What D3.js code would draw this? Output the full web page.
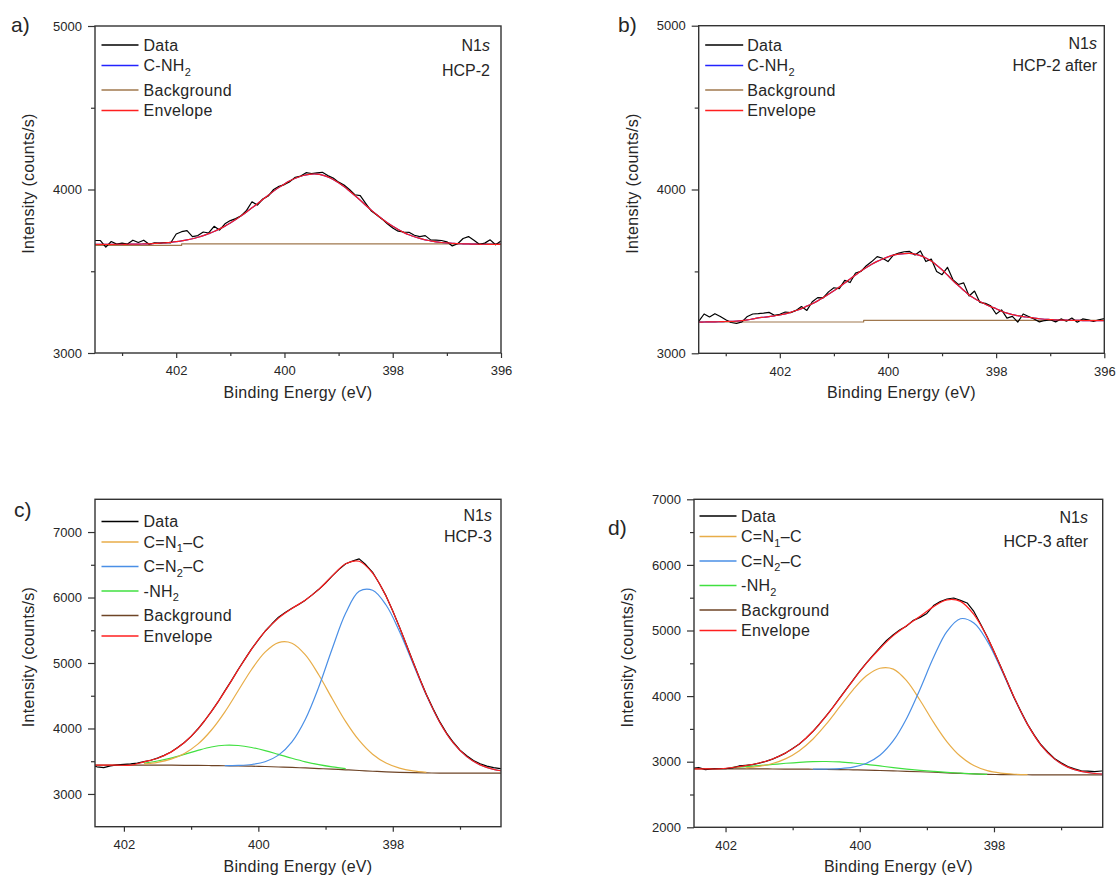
<!DOCTYPE html>
<html>
<head>
<meta charset="utf-8">
<script src="https://cdn.jsdelivr.net/npm/d3@7"></script>
<style>
  body { margin: 0; background: #fff; }
  svg text { font-family: "Liberation Sans", Arial, sans-serif; fill: #262626; }
</style>
</head>
<body>
<script>

// ---------- data ----------
// energy grids (eV), instrument step 0.1 eV, fit curves sampled every 0.2 eV
const energyAB = d3.range(76).map(i => Math.round((403.5 - i * 0.1) * 10) / 10);
const energyCD = d3.range(63).map(i => Math.round((402.5 - i * 0.1) * 10) / 10);
const energyFit = d3.range(32).map(i => Math.round((402.5 - i * 0.2) * 10) / 10);

// a) HCP-2
const dataA = [3688,3688,3648,3682,3666,3672,
  3666,3690,3676,3690,3665,3674,3672,3676,3674,3728,
  3742,3748,3712,3718,3740,3734,3775,3752,3790,3810,
  3822,3840,3872,3925,3905,3942,3960,4000,4020,4030,
  4048,4075,4082,4103,4098,4102,4105,4085,4070,4045,
  4028,4000,3968,3962,3915,3870,3845,3820,3790,3765,
  3745,3740,3738,3720,3712,3718,3692,3690,3688,3680,
  3655,3668,3700,3712,3690,3665,3672,3692,3662,3685];
const envA = [3664,3664,3664,3664,3665,3665,3665,3666,3666,3667,
  3668,3670,3672,3674,3677,3681,3686,3692,3699,3708,
  3718,3730,3743,3759,3776,3795,3816,3839,3863,3888,
  3913,3939,3965,3990,4013,4034,4053,4069,4081,4089,
  4094,4094,4088,4077,4061,4041,4018,3991,3963,3934,
  3904,3875,3847,3821,3797,3775,3755,3738,3723,3711,
  3701,3692,3686,3680,3676,3673,3671,3669,3668,3667,
  3666,3665,3665,3664,3664,3664];
const bgA = [[403.5, 3658], [401.9, 3658], [401.9, 3667], [396, 3667]];

// b) HCP-2 after
const dataB = [3195,3240,3222,3242,3225,3205,
  3188,3182,3192,3225,3240,3242,3245,3250,3232,3238,
  3252,3248,3262,3285,3262,3315,3340,3338,3375,3400,
  3395,3445,3432,3490,3500,3535,3560,3590,3580,3560,
  3600,3612,3620,3622,3600,3625,3560,3575,3500,3480,
  3525,3450,3420,3430,3350,3380,3310,3305,3290,3240,
  3265,3215,3225,3190,3240,3225,3210,3192,3200,3205,
  3192,3210,3196,3215,3190,3210,3204,3195,3205,3212];
const envB = [3191,3191,3192,3192,3193,3194,
  3195,3196,3199,3204,3210,3216,3220,3224,3229,3234,
  3241,3250,3261,3273,3288,3303,3320,3339,3360,3382,
  3405,3429,3454,3478,3502,3524,3544,3561,3576,3589,
  3599,3605,3609,3610,3605,3596,3582,3563,3538,3510,
  3478,3444,3414,3385,3356,3335,3316,3300,3285,3272,
  3257,3245,3236,3230,3224,3220,3215,3211,3208,3206,
  3204,3203,3202,3201,3201,3200,3200,3200,3200,3200];
const bgB = [[403.5, 3191], [400.45, 3191], [400.45, 3201], [396, 3201]];

// c) HCP-3
const dataC = [3440,3415,3402,3430,3445,3452,
  3458,3470,3495,3515,3548,3590,3640,3708,3785,3880,
  3992,4118,4258,4405,4570,4730,4900,5060,5215,5352,
  5485,5595,5700,5770,5835,5895,5960,6040,6125,6222,
  6330,6430,6515,6555,6590,6500,6385,6215,6025,5795,
  5548,5285,5022,4765,4520,4300,4100,3930,3790,3670,
  3585,3512,3462,3425,3402,3388,3375];
const bgC = [3440,3440,3440,3440,3440,3440,3439,3438,3436,3434,3431,3428,3424,3419,3412,3405,
  3397,3388,3379,3369,3358,3347,3338,3331,3325,3321,3319,3318,3317,3317,3317,3317];
const cn1C = [null,null,null,null,3459,3483,3531,3619,3761,3973,4251,4576,4901,5166,5312,5302,
  5123,4816,4454,4105,3817,3607,3472,3394,3352,3331,null,null,null,null,null,null];
const cn2C = [null,null,null,null,null,null,null,null,null,null,3433,3436,3450,3492,3593,3796,
  4142,4637,5221,5763,6095,6112,5886,5482,4993,4507,4092,3779,3570,3444,3376,3342];
const nh2C = [null,null,null,null,3472,3503,3547,3604,3665,3717,3744,3740,3710,3662,3604,3545,
  3491,3447,3413,3387,null,null,null,null,null,null,null,null,null,null,null,null];

// d) HCP-3 after
const dataD = [2900,2912,2880,2890,2895,2893,
  2905,2935,2945,2955,2978,3005,3040,3085,3135,3200,
  3270,3360,3460,3575,3700,3830,3968,4105,4245,4380,
  4505,4625,4740,4850,4935,5010,5070,5155,5200,5260,
  5380,5440,5480,5495,5460,5420,5290,5100,4900,4680,
  4450,4215,3975,3770,3570,3405,3258,3148,3050,2985,
  2925,2890,2862,2855,2850,2858,2860];
const bgD = [2890,2890,2890,2890,2890,2890,2889,2888,2887,2885,2883,2880,2876,2872,2866,2860,
  2854,2847,2839,2830,2821,2813,2807,2804,2802,2801,2800,2800,2800,2800,2800,2800];
const cn1D = [null,null,null,null,2907,2930,2972,3047,3168,3343,3572,3835,4096,4309,4425,4412,
  4232,3933,3599,3303,3082,2941,2863,2826,2809,2803,null,null,null,null,null,null];
const cn2D = [null,null,null,null,null,null,null,null,null,2886,2888,2895,2917,2976,3098,3320,
  3663,4110,4591,4987,5179,5114,4838,4426,3974,3567,3253,3043,2917,2852,2820,2807];
const nh2D = [null,null,null,2912,2924,2940,2958,2976,2991,3001,3003,2996,2980,2960,2935,2910,
  2888,2869,2852,2837,2825,2815,2808,null,null,null,null,null,null,null,null,null];

// envelope = background + sum of fitted components
function envelope(bg, comps) {
  return bg.map((b, i) => b + d3.sum(comps, c => c[i] == null ? 0 : c[i] - b));
}
const envC = envelope(bgC, [cn1C, cn2C, nh2C]);
const envD = envelope(bgD, [cn1D, cn2D, nh2D]);

const pairs = (xs, ys) => xs.map((e, i) => [e, ys[i]]);

// ---------- colours ----------
const col = {
  data: "#000000", cnh2: "#2323ff", bgLight: "#a0784e", env: "#ff1f1f",
  cn1: "#e8ad48", cn2: "#4a8fe6", nh2: "#40e040", bgDark: "#6e4426"
};

// ---------- panels ----------
const panels = [
  {
    id: "a", tag: "a)", tagPos: [11, 32],
    left: 95, right: 501, top: 26, bottom: 353,
    xDomain: [403.5, 396], yDomain: [3000, 5000],
    xMajor: [402, 400, 398, 396], xMinor: [403, 401, 399, 397],
    yMajor: [3000, 4000, 5000], yMinor: [3500, 4500],
    series: [
      { pts: bgA, color: col.bgLight, smooth: false },
      { pts: pairs(energyAB, envA), color: col.cnh2, smooth: true },
      { pts: pairs(energyAB, dataA), color: col.data, smooth: false },
      { pts: pairs(energyAB, envA), color: col.env, smooth: true }
    ],
    legend: [
      { text: ["Data"], color: col.data },
      { text: ["C-NH", "2", ""], color: col.cnh2 },
      { text: ["Background"], color: col.bgLight },
      { text: ["Envelope"], color: col.env }
    ],
    legendTop: 45, legendX: [6.5, 43.5, 48.5],
    note: "HCP-2", noteRight: 490, noteY: [51, 76]
  },
  {
    id: "b", tag: "b)", tagPos: [618, 32],
    left: 698.7, right: 1104.3, top: 25.7, bottom: 353.3,
    xDomain: [403.5, 396], yDomain: [3000, 5000],
    xMajor: [402, 400, 398, 396], xMinor: [403, 401, 399, 397],
    yMajor: [3000, 4000, 5000], yMinor: [3500, 4500],
    series: [
      { pts: bgB, color: col.bgLight, smooth: false },
      { pts: pairs(energyAB, envB), color: col.cnh2, smooth: true },
      { pts: pairs(energyAB, dataB), color: col.data, smooth: false },
      { pts: pairs(energyAB, envB), color: col.env, smooth: true }
    ],
    legend: [
      { text: ["Data"], color: col.data },
      { text: ["C-NH", "2", ""], color: col.cnh2 },
      { text: ["Background"], color: col.bgLight },
      { text: ["Envelope"], color: col.env }
    ],
    legendTop: 45, legendX: [6.5, 44.5, 48.5],
    note: "HCP-2 after", noteRight: 1097, noteY: [49, 71]
  },
  {
    id: "c", tag: "c)", tagPos: [14, 517],
    left: 95, right: 501, top: 499.3, bottom: 826.7,
    xDomain: [402.43, 396.39], yDomain: [2500, 7500],
    xMajor: [402, 400, 398], xMinor: [401, 399, 397],
    yMajor: [3000, 4000, 5000, 6000, 7000], yMinor: [3500, 4500, 5500, 6500],
    series: [
      { pts: pairs(energyFit, bgC), color: col.bgDark, smooth: true },
      { pts: pairs(energyFit, nh2C), color: col.nh2, smooth: true },
      { pts: pairs(energyFit, cn1C), color: col.cn1, smooth: true },
      { pts: pairs(energyFit, cn2C), color: col.cn2, smooth: true },
      { pts: pairs(energyCD, dataC), color: col.data, smooth: false },
      { pts: pairs(energyFit, envC), color: col.env, smooth: true }
    ],
    legend: [
      { text: ["Data"], color: col.data },
      { text: ["C=N", "1", "\u2013C"], color: col.cn1 },
      { text: ["C=N", "2", "\u2013C"], color: col.cn2 },
      { text: ["-NH", "2", ""], color: col.nh2 },
      { text: ["Background"], color: col.bgDark },
      { text: ["Envelope"], color: col.env }
    ],
    legendTop: 521.5, legendX: [6.5, 43.5, 48.5],
    note: "HCP-3", noteRight: 492, noteY: [521, 542]
  },
  {
    id: "d", tag: "d)", tagPos: [608, 535],
    left: 694, right: 1102.7, top: 499.3, bottom: 827.3,
    xDomain: [402.47, 396.38], yDomain: [2000, 7000],
    xMajor: [402, 400, 398], xMinor: [401, 399, 397],
    yMajor: [2000, 3000, 4000, 5000, 6000, 7000], yMinor: [2500, 3500, 4500, 5500, 6500],
    series: [
      { pts: pairs(energyFit, bgD), color: col.bgDark, smooth: true },
      { pts: pairs(energyFit, nh2D), color: col.nh2, smooth: true },
      { pts: pairs(energyFit, cn1D), color: col.cn1, smooth: true },
      { pts: pairs(energyFit, cn2D), color: col.cn2, smooth: true },
      { pts: pairs(energyCD, dataD), color: col.data, smooth: false },
      { pts: pairs(energyFit, envD), color: col.env, smooth: true }
    ],
    legend: [
      { text: ["Data"], color: col.data },
      { text: ["C=N", "1", "\u2013C"], color: col.cn1 },
      { text: ["C=N", "2", "\u2013C"], color: col.cn2 },
      { text: ["-NH", "2", ""], color: col.nh2 },
      { text: ["Background"], color: col.bgDark },
      { text: ["Envelope"], color: col.env }
    ],
    legendTop: 516, legendX: [5.5, 42.5, 47],
    note: "HCP-3 after", noteRight: 1088, noteY: [523, 547]
  }
];

const svg = d3.select("body").append("svg")
  .attr("width", 1118)
  .attr("height", 880);

function addText(sel, parts) {
  sel.append("tspan").text(parts[0]);
  if (parts.length > 1) {
    sel.append("tspan").attr("font-size", 11).attr("dy", 4.5).text(parts[1]);
    if (parts[2]) sel.append("tspan").attr("dy", -4.5).text(parts[2]);
  }
}

panels.forEach(p => {
  const g = svg.append("g").attr("id", "panel-" + p.id);

  const x = d3.scaleLinear().domain(p.xDomain).range([p.left, p.right]);
  const y = d3.scaleLinear().domain(p.yDomain).range([p.bottom, p.top]);

  // clip for curves
  svg.append("clipPath").attr("id", "clip-" + p.id)
    .append("rect")
    .attr("x", p.left).attr("y", p.top)
    .attr("width", p.right - p.left).attr("height", p.bottom - p.top);

  // axes: major ticks with labels, minor ticks without
  g.append("g").attr("transform", `translate(0,${p.bottom})`)
    .call(d3.axisBottom(x).tickValues(p.xMajor).tickFormat(d3.format("d"))
      .tickSize(5).tickSizeOuter(0).tickPadding(8));
  g.append("g").attr("transform", `translate(0,${p.bottom})`)
    .call(d3.axisBottom(x).tickValues(p.xMinor).tickFormat("").tickSize(3).tickSizeOuter(0));
  g.append("g").attr("transform", `translate(${p.left},0)`)
    .call(d3.axisLeft(y).tickValues(p.yMajor).tickFormat(d3.format("d"))
      .tickSize(7).tickSizeOuter(0).tickPadding(6));
  g.append("g").attr("transform", `translate(${p.left},0)`)
    .call(d3.axisLeft(y).tickValues(p.yMinor).tickFormat("").tickSize(4).tickSizeOuter(0));

  g.selectAll(".domain").remove();
  g.selectAll(".tick line").attr("stroke", "#333").attr("stroke-width", 1.2);
  g.selectAll(".tick text").attr("font-size", 13).attr("fill", "#333")
    .attr("font-family", "'Liberation Sans', Arial, sans-serif");

  // curves
  const plot = g.append("g").attr("clip-path", `url(#clip-${p.id})`);
  p.series.forEach(s => {
    const line = d3.line()
      .defined(d => d[1] != null)
      .x(d => x(d[0])).y(d => y(d[1]))
      .curve(s.smooth ? d3.curveCatmullRom.alpha(0.5) : d3.curveLinear);
    plot.append("path")
      .attr("d", line(s.pts))
      .attr("fill", "none")
      .attr("stroke", s.color)
      .attr("stroke-width", 1.2)
      .attr("stroke-linejoin", "round");
  });

  // frame
  g.append("rect")
    .attr("x", p.left).attr("y", p.top)
    .attr("width", p.right - p.left).attr("height", p.bottom - p.top)
    .attr("fill", "none").attr("stroke", "#333").attr("stroke-width", 1.4);

  // legend
  let ly = p.legendTop;
  p.legend.forEach((item, i) => {
    if (i > 0) ly += p.legend[i - 1].text.length > 1 ? 24.5 : 20.5;
    g.append("line")
      .attr("x1", p.left + p.legendX[0]).attr("x2", p.left + p.legendX[1])
      .attr("y1", ly).attr("y2", ly)
      .attr("stroke", item.color).attr("stroke-width", 1.5);
    const t = g.append("text")
      .attr("x", p.left + p.legendX[2]).attr("y", ly + 5.8)
      .attr("font-size", 16).attr("letter-spacing", 0.3);
    addText(t, item.text);
  });

  // N1s + sample name
  const n = g.append("text").attr("x", p.noteRight).attr("y", p.noteY[0])
    .attr("text-anchor", "end").attr("font-size", 16);
  n.append("tspan").text("N1");
  n.append("tspan").attr("font-style", "italic").text("s");
  g.append("text").attr("x", p.noteRight).attr("y", p.noteY[1])
    .attr("text-anchor", "end").attr("font-size", 16).text(p.note);

  // axis titles
  g.append("text")
    .attr("x", (p.left + p.right) / 2).attr("y", p.bottom + 45)
    .attr("text-anchor", "middle").attr("font-size", 16).attr("letter-spacing", 0.3)
    .text("Binding Energy (eV)");
  g.append("text")
    .attr("transform", `translate(${p.left - 61},${(p.top + p.bottom) / 2 - 6}) rotate(-90)`)
    .attr("text-anchor", "middle").attr("font-size", 16).attr("letter-spacing", 0.3)
    .text("Intensity (counts/s)");

  // panel tag
  svg.append("text")
    .attr("x", p.tagPos[0]).attr("y", p.tagPos[1])
    .attr("font-size", 21).attr("font-family", "'Open Sans', 'Liberation Sans', sans-serif")
    .text(p.tag);
});

</script>
</body>
</html>
